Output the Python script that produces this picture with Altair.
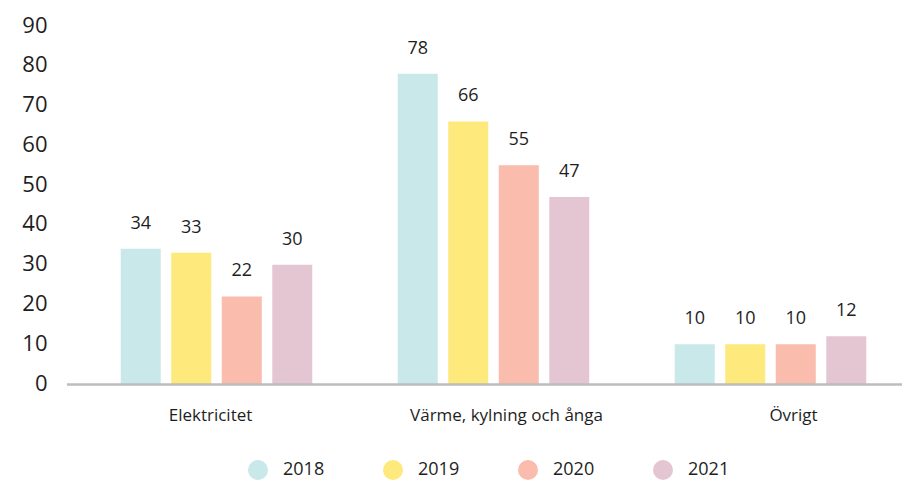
import altair as alt
import pandas as pd

categories = ["Elektricitet", "Värme, kylning och ånga", "Övrigt"]
years = ["2018", "2019", "2020", "2021"]
v2018 = [34, 78, 10]
v2019 = [33, 66, 10]
v2020 = [22, 55, 10]
v2021 = [30, 47, 12]
colors = ["#c8e8ea", "#fde97c", "#f9bcad", "#e4c6d2"]
y_ticks = [0, 10, 20, 30, 40, 50, 60, 70, 80, 90]

rows = []
for yr, vals in zip(years, [v2018, v2019, v2020, v2021]):
    for c, v in zip(categories, vals):
        rows.append({"cat": c, "year": yr, "value": v})
df = pd.DataFrame(rows)
cat_df = pd.DataFrame({"cat": categories})

FONT = "Open Sans"
TXT = "#1e1e1e"
W, H = 824, 358      # drawn view (kept inside the page)
BAND_END = 831       # x range of the category bands

xscale = alt.Scale(domain=categories, paddingInner=0, paddingOuter=0, range=[0, BAND_END])

base = alt.Chart(df).encode(
    x=alt.X("cat:N", sort=categories, scale=xscale,
            axis=alt.Axis(title=None, labels=False, domain=False, ticks=False)),
    xOffset=alt.XOffset("year:N", sort=years,
                        scale=alt.Scale(paddingInner=0.208, paddingOuter=0.846)),
    y=alt.Y("value:Q", scale=alt.Scale(domain=[0, 90], nice=False),
            axis=alt.Axis(title=None, values=y_ticks, grid=False, domain=False,
                          ticks=False, labelPadding=31, labelFontSize=22,
                          labelColor=TXT, labelFont=FONT, labelOffset=-1)),
)

bars = base.mark_bar().encode(
    color=alt.Color("year:N", sort=years,
                    scale=alt.Scale(domain=years, range=colors),
                    legend=alt.Legend(title=None, orient="none", direction="horizontal",
                                      legendX=170, legendY=434,
                                      symbolType="circle", symbolSize=400,
                                      symbolStrokeWidth=0, labelFontSize=18,
                                      labelColor=TXT, labelFont=FONT,
                                      labelOffset=15, columnPadding=58,
                                      padding=0))
)

text = base.mark_text(baseline="middle", dy=-25, fontSize=18, color=TXT, font=FONT).encode(
    text=alt.Text("value:Q")
)

label_shift = {"Elektricitet": -6, "Värme, kylning och ånga": 13, "Övrigt": 23}
cat_labels = []
for c in categories:
    cat_labels.append(
        alt.Chart(cat_df).transform_filter(alt.datum.cat == c).mark_text(
            baseline="middle", fontSize=17, color=TXT, font=FONT, dx=label_shift[c]
        ).encode(x=alt.X("cat:N", sort=categories, scale=xscale),
                 y=alt.value(H + 32), text="cat:N")
    )

axis_line = alt.Chart(pd.DataFrame({"a": [0]})).mark_rule(
    color="#bdbdbd", strokeWidth=2.5
).encode(x=alt.value(-11), x2=alt.value(W), y=alt.value(H + 0.5))

chart = alt.layer(bars, text, *cat_labels, axis_line).properties(
    width=W, height=H,
    autosize=alt.AutoSizeParams(type="none"),
    padding={"left": 70, "top": 18, "right": 0, "bottom": 110},
).configure_view(stroke=None)

chart.save("out.html", embed_options={"renderer": "svg", "actions": False})
